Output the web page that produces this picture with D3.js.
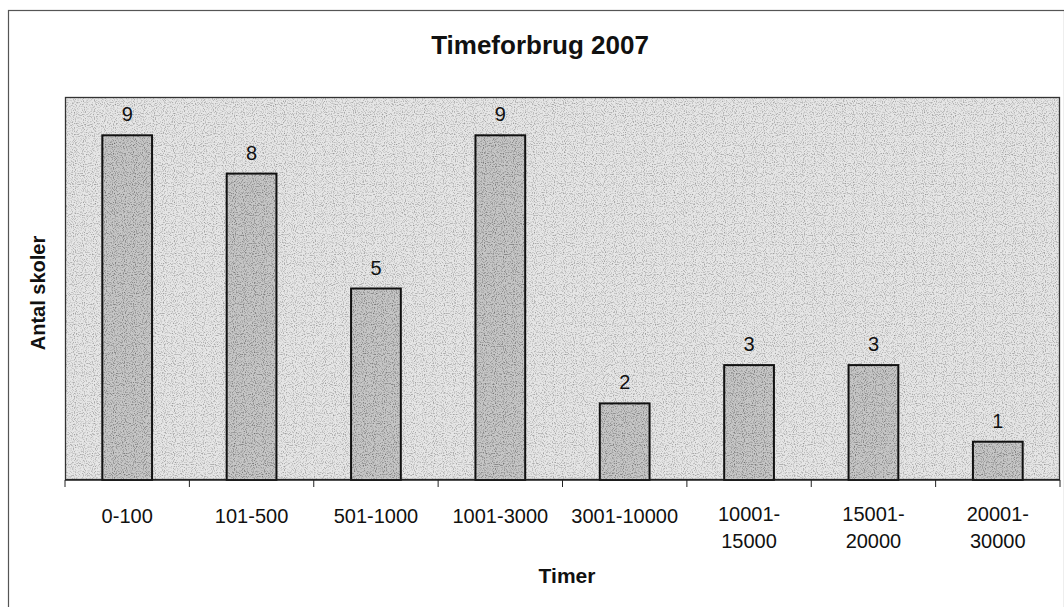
<!DOCTYPE html>
<html>
<head>
<meta charset="utf-8">
<script src="https://cdn.jsdelivr.net/npm/d3@7"></script>
<style>
  body { margin: 0; background: #fff; }
  svg { display: block; font-family: Arial, "Liberation Sans", sans-serif; }
</style>
</head>
<body>
<svg id="chart" width="1064" height="607"></svg>
<script>
const title = "Timeforbrug 2007";
const xTitle = "Timer";
const yTitle = "Antal skoler";
const categories = [["0-100"], ["101-500"], ["501-1000"], ["1001-3000"], ["3001-10000"], ["10001-", "15000"], ["15001-", "20000"], ["20001-", "30000"]];
const values = [9, 8, 5, 9, 2, 3, 3, 1];
const yDomain = [0, 10];

const svg = d3.select("#chart");
const W = 1064, H = 607;
const m = { left: 65, right: 4, top: 97, bottom: 127 };

// noise filter to imitate the scanned grey texture
const defs = svg.append("defs");
const f = defs.append("filter").attr("id", "grain").attr("x", 0).attr("y", 0).attr("width", 1).attr("height", 1);
f.append("feTurbulence").attr("type", "fractalNoise").attr("baseFrequency", 0.9).attr("numOctaves", 1).attr("seed", 3).attr("result", "n");
f.append("feColorMatrix").attr("in", "n").attr("type", "matrix")
  .attr("values", "0 0 0 0 0  0 0 0 0 0  0 0 0 0 0  0 0 0 -2.6 1.35").attr("result", "a");
f.append("feComposite").attr("in", "a").attr("in2", "SourceGraphic").attr("operator", "in");

// outer frame
svg.append("rect").attr("x", 8.5).attr("y", 10.5).attr("width", W - 8).attr("height", H)
  .attr("fill", "#fff").attr("stroke", "#555").attr("stroke-width", 1.2);

const x = d3.scaleBand().domain(categories.map((d, i) => i)).range([m.left, W - m.right]).paddingInner(0.6).paddingOuter(0.3);
const xb = d3.scaleBand().domain(categories.map((d, i) => i)).range([m.left, W - m.right]);
const y = d3.scaleLinear().domain(yDomain).range([H - m.bottom, m.top]);

// plot area
const pw = W - m.right - m.left, ph = H - m.bottom - m.top;
svg.append("rect").attr("x", m.left).attr("y", m.top).attr("width", pw).attr("height", ph).attr("fill", "#e6e6e6");
svg.append("rect").attr("x", m.left).attr("y", m.top).attr("width", pw).attr("height", ph).attr("fill", "#777").attr("filter", "url(#grain)").attr("opacity", 0.38);
svg.append("rect").attr("x", m.left + 0.5).attr("y", m.top + 0.5).attr("width", pw - 1).attr("height", ph - 1)
  .attr("fill", "none").attr("stroke", "#333").attr("stroke-width", 1.3);

// bars
const g = svg.append("g");
g.selectAll("rect.bar").data(values).join("rect").attr("class", "bar")
  .attr("x", (d, i) => x(i)).attr("y", d => y(d))
  .attr("width", x.bandwidth()).attr("height", d => y(0) - y(d))
  .attr("fill", "#c6c6c6");
g.selectAll("rect.grain").data(values).join("rect").attr("class", "grain")
  .attr("x", (d, i) => x(i)).attr("y", d => y(d))
  .attr("width", x.bandwidth()).attr("height", d => y(0) - y(d))
  .attr("fill", "#444").attr("filter", "url(#grain)").attr("opacity", 0.5);
g.selectAll("rect.outline").data(values).join("rect").attr("class", "outline")
  .attr("x", (d, i) => x(i)).attr("y", d => y(d))
  .attr("width", x.bandwidth()).attr("height", d => y(0) - y(d))
  .attr("fill", "none").attr("stroke", "#111").attr("stroke-width", 2);

// value labels
g.selectAll("text.val").data(values).join("text").attr("class", "val")
  .attr("x", (d, i) => x(i) + x.bandwidth() / 2).attr("y", d => y(d) - 14)
  .attr("text-anchor", "middle").attr("font-size", 20).attr("fill", "#111").text(d => d);

// x axis
const xAxis = svg.append("g").attr("transform", `translate(0,${H - m.bottom})`);
xAxis.append("line").attr("x1", m.left).attr("x2", W - m.right).attr("stroke", "#222").attr("stroke-width", 1.5);
const tickPos = categories.map((d, i) => xb(i)).concat([W - m.right]);
xAxis.selectAll("line.tick").data(tickPos).join("line").attr("class", "tick")
  .attr("x1", d => d).attr("x2", d => d).attr("y1", 0).attr("y2", 7).attr("stroke", "#222").attr("stroke-width", 1);
const lbl = xAxis.selectAll("text.cat").data(categories).join("text").attr("class", "cat")
  .attr("x", (d, i) => xb(i) + xb.bandwidth() / 2)
  .attr("y", d => d.length === 1 ? 43 : 41)
  .attr("text-anchor", "middle").attr("font-size", 20).attr("fill", "#111");
lbl.selectAll("tspan").data(d => d).join("tspan")
  .attr("x", function () { return d3.select(this.parentNode).attr("x"); })
  .attr("dy", (d, i) => i === 0 ? 0 : 27).text(d => d);

// titles
svg.append("text").attr("x", 540).attr("y", 54).attr("text-anchor", "middle")
  .attr("font-size", 26).attr("font-weight", "bold").attr("fill", "#111").text(title);
svg.append("text").attr("x", 567).attr("y", 583).attr("text-anchor", "middle")
  .attr("font-size", 21).attr("font-weight", "bold").attr("fill", "#111").text(xTitle);
svg.append("text").attr("transform", `translate(45,293) rotate(-90)`).attr("text-anchor", "middle")
  .attr("font-size", 20).attr("font-weight", "bold").attr("fill", "#111").text(yTitle);
</script>
</body>
</html>
